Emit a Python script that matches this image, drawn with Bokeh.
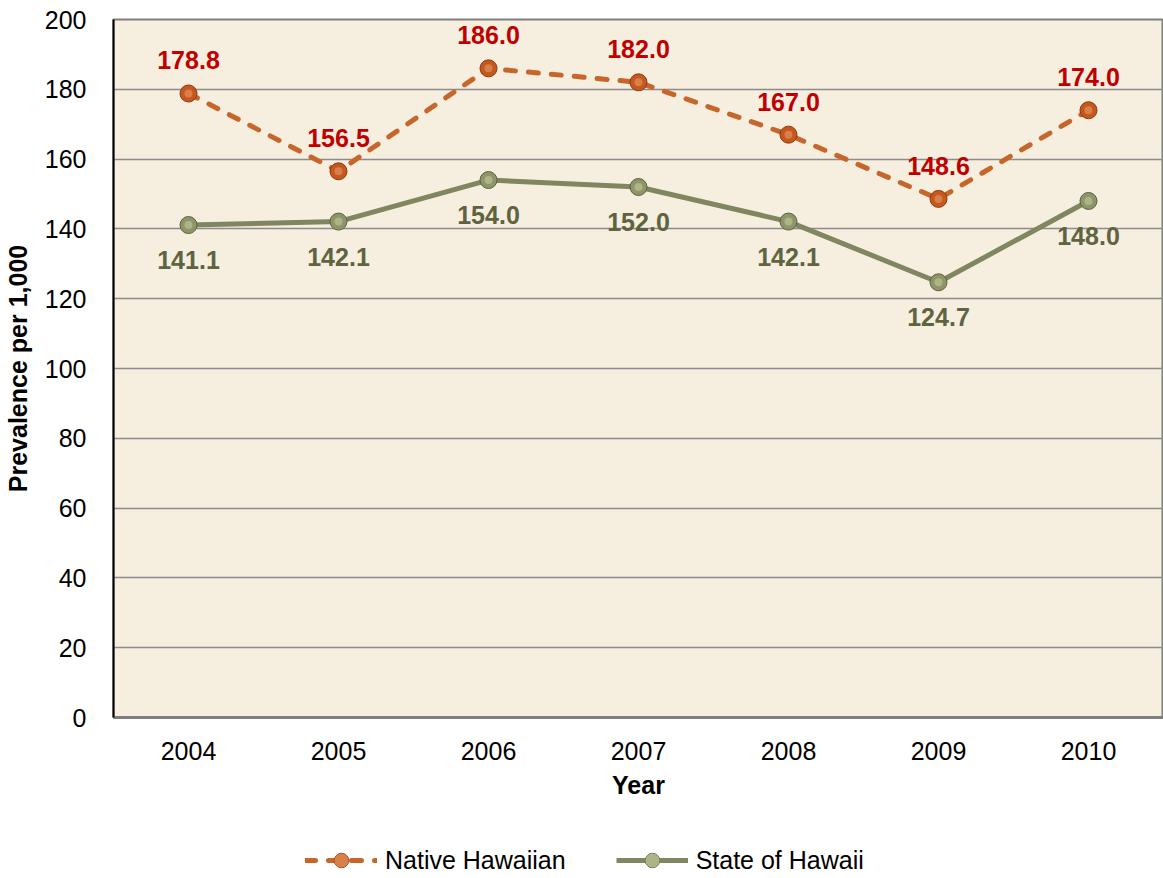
from bokeh.plotting import figure
from bokeh.models import ColumnDataSource, Legend, LegendItem, FixedTicker, Range1d
from bokeh.layouts import column
from bokeh.core.properties import value
from bokeh.embed import file_html
from bokeh.resources import INLINE

years = ["2004", "2005", "2006", "2007", "2008", "2009", "2010"]
native = [178.8, 156.5, 186.0, 182.0, 167.0, 148.6, 174.0]
state = [141.1, 142.1, 154.0, 152.0, 142.1, 124.7, 148.0]
y_ticks = [0, 20, 40, 60, 80, 100, 120, 140, 160, 180, 200]
series_names = ["Native Hawaiian", "State of Hawaii"]

FONT = "Liberation Sans"
ORANGE = "#C7662B"
OLIVE = "#7F8660"

src_n = ColumnDataSource(dict(x=years, y=native, lab=[f"{v:.1f}" for v in native]))
src_s = ColumnDataSource(dict(x=years, y=state, lab=[f"{v:.1f}" for v in state]))

p = figure(x_range=years, y_range=(0, 200), frame_width=1050, frame_height=698,
           output_backend="svg", toolbar_location=None,
           min_border_left=113, min_border_right=0, min_border_top=19, min_border_bottom=90)

p.background_fill_color = "#F6EEDE"
p.border_fill_color = "white"
p.outline_line_color = "#7F7F7F"
p.outline_line_width = 2

p.xgrid.grid_line_color = None
p.ygrid.grid_line_color = "#8C8C8C"
p.ygrid.grid_line_width = 1.5
p.yaxis.ticker = FixedTicker(ticks=y_ticks)

for ax in (p.xaxis[0], p.yaxis[0]):
    ax.major_tick_line_color = None
    ax.minor_tick_line_color = None
    ax.major_label_text_font = FONT
    ax.major_label_text_font_size = "25px"
    ax.major_label_text_color = "black"
    ax.axis_label_text_font = FONT
    ax.axis_label_text_font_size = "25px"
    ax.axis_label_text_font_style = "bold"
    ax.axis_label_text_color = "black"

p.yaxis.axis_line_color = "black"
p.yaxis.axis_line_width = 2
p.yaxis.axis_label = "Prevalence per 1,000"
p.yaxis.major_label_standoff = 21
p.yaxis.axis_label_standoff = 10
p.xaxis.axis_line_color = "#7F7F7F"
p.xaxis.axis_line_width = 3
p.xaxis.axis_label = "Year"
p.xaxis.major_label_standoff = 18
p.xaxis.axis_label_standoff = 8

def draw_series(fig, src, color, dash, fill, edge, hi):
    kw = dict(line_dash=dash, line_cap="round") if dash else {}
    l = fig.line("x", "y", source=src, line_color=color, line_width=5, **kw)
    m = fig.scatter("x", "y", source=src, size=17, fill_color=fill, line_color=edge, line_width=1)
    h = fig.scatter("x", "y", source=src, size=8, fill_color=hi, line_color=None, fill_alpha=0.6)
    return [l, m, h]

draw_series(p, src_n, ORANGE, "10 13", "#C4581F", "#8A3A10", "#E89A68")
draw_series(p, src_s, OLIVE, None, "#8E9568", "#5C623E", "#C4C99F")

p.text("x", "y", text="lab", source=src_n, text_align="center", text_baseline="middle",
       y_offset=-33, text_font=value(FONT), text_font_size="25px", text_font_style="bold",
       text_color="#C00000")
p.text("x", "y", text="lab", source=src_s, text_align="center", text_baseline="middle",
       y_offset=35, text_font=value(FONT), text_font_size="25px", text_font_style="bold",
       text_color="#5E6340")

# legend strip below the chart (dummy off-range glyphs carry the legend styling)
lg = figure(width=1163, height=71, x_range=Range1d(0, 1), y_range=Range1d(0, 1),
            output_backend="svg", toolbar_location=None,
            min_border_left=0, min_border_right=0, min_border_top=0, min_border_bottom=0)
lg.axis.visible = False
lg.grid.grid_line_color = None
lg.outline_line_color = None
lg.border_fill_color = "white"
lg.background_fill_color = "white"
dummy = ColumnDataSource(dict(x=[-5, -4], y=[-5, -4]))
rn = draw_series(lg, dummy, ORANGE, "10 13", "#C4581F", "#8A3A10", "#E89A68")
rs = draw_series(lg, dummy, OLIVE, None, "#8E9568", "#5C623E", "#C4C99F")

legend = Legend(items=[LegendItem(label=series_names[0], renderers=rn),
                       LegendItem(label=series_names[1], renderers=rs)],
                orientation="horizontal", location=(192, 0),
                border_line_color=None, background_fill_alpha=0,
                label_text_font=FONT, label_text_font_size="25px", label_text_color="black",
                glyph_width=72, glyph_height=36, spacing=50, margin=0, padding=0,
                label_standoff=8)
lg.add_layout(legend, "center")

layout = column(p, lg, spacing=0)
open("out.html", "w").write(file_html(layout, INLINE))
